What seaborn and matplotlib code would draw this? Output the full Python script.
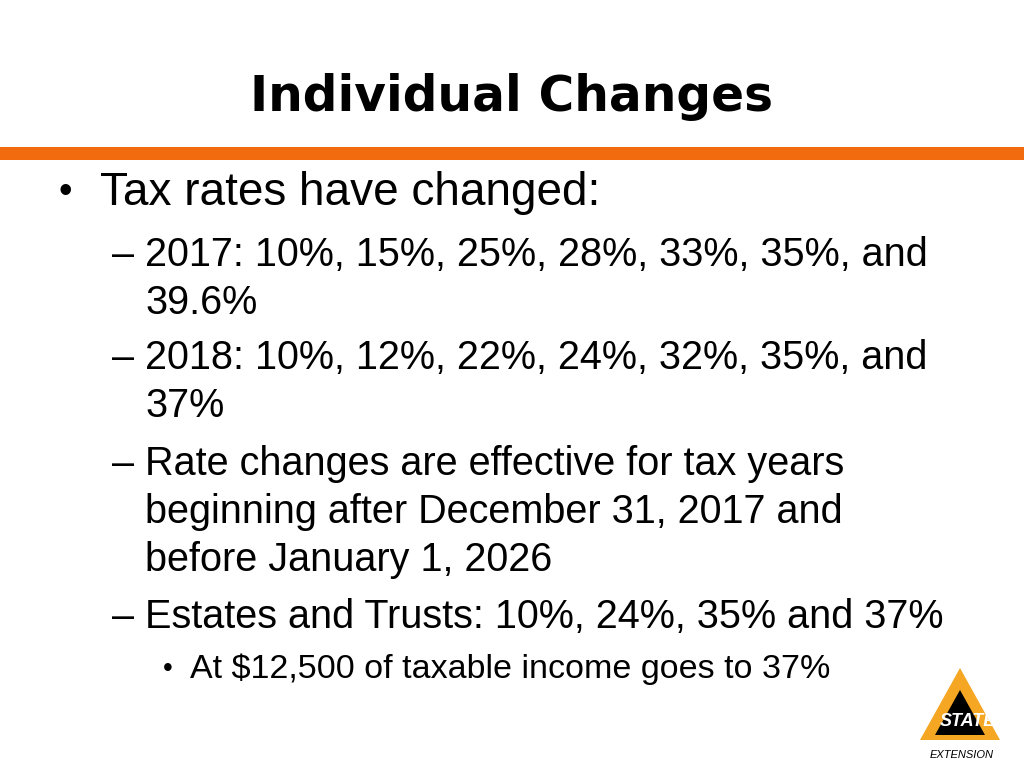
import matplotlib
matplotlib.use("Agg")
import matplotlib.pyplot as plt
import seaborn as sns
from matplotlib.patches import Rectangle, Polygon

sns.set_theme(style="white", font="Liberation Sans")

title = "Individual Changes"
rates_2017 = ["10%", "15%", "25%", "28%", "33%", "35%", "39.6%"]
rates_2018 = ["10%", "12%", "22%", "24%", "32%", "35%", "37%"]
estate_rates = ["10%", "24%", "35%", "37%"]
orange = "#F26B0F"

def join_rates(r):
    return ", ".join(r[:-1]) + ", and"

fig = plt.figure(figsize=(10.24, 7.68), dpi=100)
ax = fig.add_axes([0, 0, 1, 1])
ax.set_xlim(0, 1024)
ax.set_ylim(768, 0)
ax.axis("off")

ax.text(512, 97, title, ha="center", va="center", fontsize=35, fontweight="bold",
        family="DejaVu Sans", color="black")
ax.add_patch(Rectangle((0, 147), 1024, 13, color=orange, lw=0))

txt = dict(va="center", color="black")
fs = 28.5
ax.text(58, 193, "•", fontsize=28, **txt)
ax.text(100, 193, "Tax rates have changed:", fontsize=33, **txt)

ax.text(112, 255, "–", fontsize=fs, **txt)
ax.text(145, 255, "2017: " + join_rates(rates_2017), fontsize=fs, **txt)
ax.text(145, 303, rates_2017[-1], fontsize=fs, **txt)
ax.text(112, 358, "–", fontsize=fs, **txt)
ax.text(145, 358, "2018: " + join_rates(rates_2018), fontsize=fs, **txt)
ax.text(145, 406, rates_2018[-1], fontsize=fs, **txt)
ax.text(112, 464, "–", fontsize=fs, **txt)
ax.text(145, 464, "Rate changes are effective for tax years", fontsize=fs, **txt)
ax.text(145, 512, "beginning after December 31, 2017 and", fontsize=fs, **txt)
ax.text(145, 560, "before January 1, 2026", fontsize=fs, **txt)
ax.text(112, 617, "–", fontsize=fs, **txt)
ax.text(145, 617, "Estates and Trusts: " + ", ".join(estate_rates[:-1]) + " and " + estate_rates[-1],
        fontsize=fs, **txt)
ax.text(163, 669, "•", fontsize=20, **txt)
ax.text(190, 669, "At $12,500 of taxable income goes to 37%", fontsize=24.5, **txt)

# simple logo
ax.add_patch(Polygon([[960, 668], [1000, 740], [920, 740]], closed=True, color="#F5A623", lw=0))
ax.add_patch(Polygon([[960, 690], [985, 735], [935, 735]], closed=True, color="black", lw=0))
ax.text(968, 722, "STATE", ha="center", va="center", fontsize=13, fontweight="bold",
        fontstyle="italic", color="white")
ax.text(962, 755, "EXTENSION", ha="center", va="center", fontsize=8, fontstyle="italic", color="black")

fig.savefig("out.png", dpi=100, facecolor="white")
